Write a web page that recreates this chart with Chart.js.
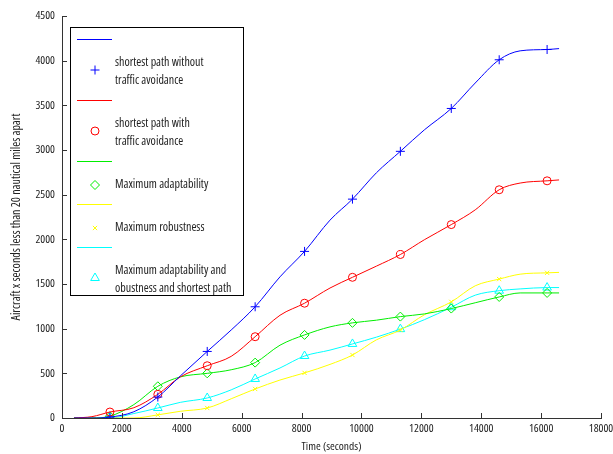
<!DOCTYPE html>
<html>
<head>
<meta charset="utf-8">
<script src="https://cdn.jsdelivr.net/npm/chart.js@4.4.0/dist/chart.umd.min.js"></script>
<style>
  html, body { margin: 0; padding: 0; background: #fff; }
  #c { display: block; }
</style>
</head>
<body>
<canvas id="c" width="613" height="454"></canvas>
<script>
// sample times (seconds)
const times = [400, 1000, 1600, 2400, 3200, 3950, 4850, 5650, 6450, 7280, 8100, 8950, 9700, 10500, 11300, 12100, 13000, 13800, 14600, 15300, 16200, 16600];
// times where the markers sit
const markerTimes = [1600, 3200, 4850, 6450, 8100, 9700, 11300, 13000, 14600, 16200];

const shortestNoAvoid = [0, 0, 10, 70, 235, 470, 745, 985, 1245, 1580, 1865, 2215, 2450, 2745, 2985, 3225, 3465, 3750, 4010, 4110, 4125, 4135];
const shortestAvoid   = [0, 15, 67, 115, 265, 460, 585, 690, 910, 1150, 1285, 1455, 1575, 1700, 1830, 1995, 2165, 2330, 2555, 2630, 2655, 2665];
const maxAdapt        = [0, 0, 20, 150, 355, 460, 500, 540, 620, 815, 930, 1020, 1065, 1095, 1135, 1165, 1225, 1290, 1355, 1400, 1400, 1400];
const maxRobust       = [0, 0, 0, 0, 35, 75, 112, 215, 325, 425, 505, 600, 705, 875, 985, 1155, 1300, 1480, 1555, 1610, 1625, 1630];
const adaptRobustSP   = [0, 0, 0, 50, 112, 175, 224, 315, 437, 560, 694, 760, 829, 905, 995, 1100, 1240, 1375, 1425, 1445, 1460, 1460];

const xTicks = [0, 2000, 4000, 6000, 8000, 10000, 12000, 14000, 16000, 18000];
const yTicks = [0, 500, 1000, 1500, 2000, 2500, 3000, 3500, 4000, 4500];

const labels = [
  ['shortest path without', 'traffic avoidance'],
  ['shortest path with', 'traffic avoidance'],
  ['Maximum adaptability'],
  ['Maximum robustness'],
  ['Maximum adaptability and', 'obustness and shortest path']
];

// condensed face, close to the matlab screen font
const FAMILY = "'Open Sans', 'DejaVu Sans Condensed', sans-serif";
const txt = (size) => ({ family: FAMILY, size: size, weight: 'condensed' });

const series = [
  { data: shortestNoAvoid, color: '#0000ff', style: 'cross', r: 4.5 },
  { data: shortestAvoid, color: '#ff0000', style: 'circle', r: 4 },
  { data: maxAdapt, color: '#00ee00', style: 'rectRot', r: 4.5 },
  { data: maxRobust, color: '#ffff00', style: 'crossRot', r: 3 },
  { data: adaptRobustSP, color: '#00ffff', style: 'triangle', r: 5 }
];

const datasets = series.map((s, i) => ({
  label: labels[i].join(' '),
  data: times.map((t, k) => ({ x: t, y: s.data[k] })),
  borderColor: s.color,
  borderWidth: 1,
  pointStyle: s.style,
  pointRadius: ctx => markerTimes.includes(times[ctx.dataIndex]) ? s.r : 0,
  pointBorderColor: s.color,
  pointBackgroundColor: 'rgba(0,0,0,0)',
  pointBorderWidth: 1,
  cubicInterpolationMode: 'monotone',
  fill: false
}));

// matlab style legend: line sample, then marker + text
const legendPlugin = {
  id: 'matlabLegend',
  afterDatasetsDraw(chart) {
    const c = chart.ctx;
    c.save();
    c.fillStyle = '#fff';
    c.fillRect(70.5, 27.5, 173, 268);
    c.strokeStyle = '#000';
    c.lineWidth = 1;
    c.strokeRect(70.5, 27.5, 173, 268);
    c.font = "condensed 12px " + FAMILY;
    c.textBaseline = 'middle';
    let y = 39;
    series.forEach((s, i) => {
      c.strokeStyle = s.color;
      c.lineWidth = 1;
      c.beginPath();
      c.moveTo(77, y + 0.5);
      c.lineTo(112, y + 0.5);
      c.stroke();
      const lines = labels[i];
      const first = y + 24;
      const mid = first + (lines.length - 1) * 9;
      c.fillStyle = 'rgba(0,0,0,0)';
      Chart.helpers.drawPoint(c, { pointStyle: s.style, radius: s.r, rotation: 0, borderWidth: 1 }, 95, lines.length > 1 ? mid - 2 : mid);
      c.fillStyle = '#222';
      lines.forEach((t, k) => c.fillText(t, 115, first + k * 18));
      y = first + (lines.length - 1) * 18 + 19;
    });
    c.restore();
  }
};

// inward tick marks
const tickPlugin = {
  id: 'inTicks',
  afterDraw(chart) {
    const c = chart.ctx;
    const xs = chart.scales.x, ys = chart.scales.y;
    const a = chart.chartArea;
    c.save();
    c.strokeStyle = '#333';
    c.lineWidth = 1;
    c.beginPath();
    xTicks.forEach(v => {
      const px = Math.round(xs.getPixelForValue(v)) + 0.5;
      c.moveTo(px, a.bottom);
      c.lineTo(px, a.bottom - 5);
    });
    yTicks.forEach(v => {
      const py = Math.round(ys.getPixelForValue(v)) + 0.5;
      c.moveTo(a.left, py);
      c.lineTo(a.left + 5, py);
    });
    c.stroke();
    c.restore();
  }
};

new Chart(document.getElementById('c'), {
  type: 'line',
  data: { datasets: datasets },
  plugins: [legendPlugin, tickPlugin],
  options: {
    responsive: false,
    animation: false,
    events: [],
    layout: { padding: { top: 16, right: 12, left: 0, bottom: 0 } },
    plugins: { legend: { display: false }, tooltip: { enabled: false } },
    scales: {
      x: {
        type: 'linear',
        min: 0, max: 18000,
        afterFit: s => { s.height = 36; s.paddingRight = 0; s.paddingLeft = 0; },
        afterBuildTicks: s => { s.ticks = xTicks.map(v => ({ value: v })); },
        grid: { drawOnChartArea: false, drawTicks: false },
        border: { color: '#333', width: 1 },
        ticks: { padding: 4, color: '#222', font: txt(11.5), maxRotation: 0, autoSkip: false, callback: v => String(v) },
        title: { display: true, text: 'Time (seconds)', color: '#222', font: txt(11.5), padding: { top: 0, bottom: 0 } }
      },
      y: {
        type: 'linear',
        min: 0, max: 4500,
        afterFit: s => { s.width = 62; },
        afterBuildTicks: s => { s.ticks = yTicks.map(v => ({ value: v })); },
        grid: { drawOnChartArea: false, drawTicks: false },
        border: { color: '#333', width: 1 },
        ticks: { padding: 7, color: '#222', font: txt(11.5), autoSkip: false, callback: v => String(v) },
        title: { display: true, text: 'Aircraft x seconds less than 20 nautical miles apart', color: '#222', font: txt(12), padding: { top: 9, bottom: 0 } }
      }
    }
  }
});
</script>
</body>
</html>
